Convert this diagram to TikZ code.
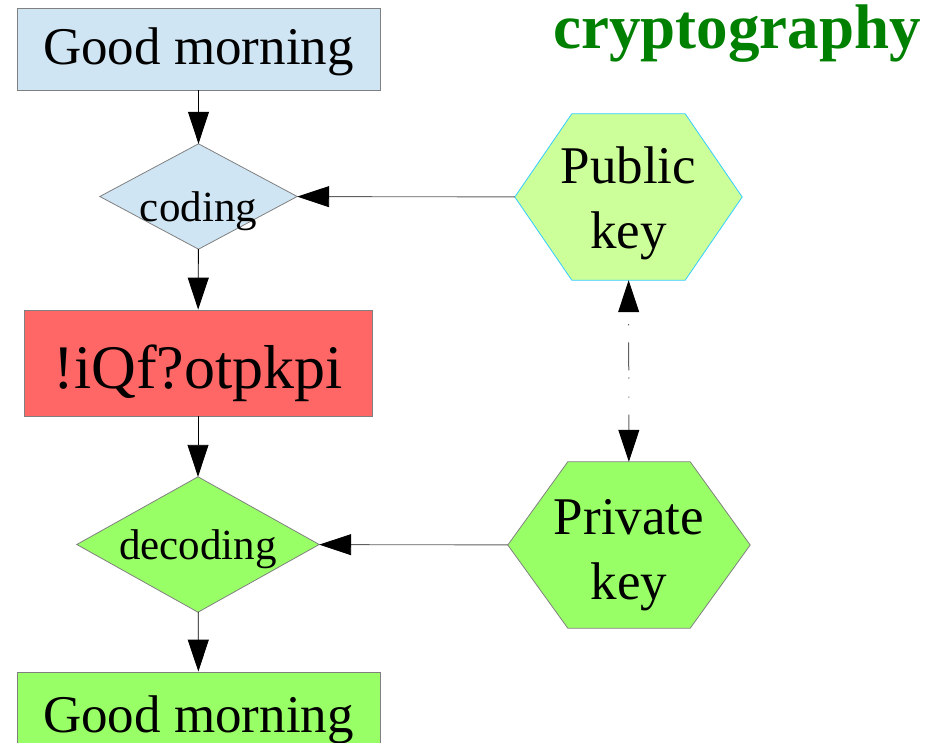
\documentclass[tikz,border=0pt]{standalone}
\usepackage{fontspec}
\setmainfont{Liberation Serif}
\usetikzlibrary{arrows.meta,calc,backgrounds}
\definecolor{boxblue}{HTML}{CFE5F3}
\definecolor{boxred}{HTML}{FF6666}
\definecolor{boxgreen}{HTML}{99FF66}
\definecolor{lightgreen}{HTML}{CCFF99}
\definecolor{edgegray}{HTML}{808080}
\definecolor{edgecyan}{HTML}{33CCFF}
\definecolor{titlegreen}{HTML}{008000}
\definecolor{linegray}{HTML}{606060}
\begin{document}
\begin{tikzpicture}[x=1pt,y=-1pt,
  box/.style={draw=edgegray, line width=0.8pt, inner sep=0pt, minimum width=363pt, minimum height=82pt, text depth=0pt, font=\fontsize{53}{60}\selectfont},
  frame/.style={inner sep=0pt, text depth=0pt, font=\fontsize{43}{50}\selectfont},
  hexlabel/.style={inner sep=0pt, align=center, font=\fontsize{53}{65}\selectfont},
  tip/.tip={Triangle[length=32pt,width=21pt,color=black]},
  arr/.style={-tip, line width=0.9pt},
  dashdot/.style={draw=linegray, line width=1pt, dash pattern=on 28pt off 7pt on 1.2pt off 18pt on 1.2pt off 17pt, dash phase=42pt, tip-tip}
]
\useasboundingbox (0,0) rectangle (935,743);

% left column
\node[box, fill=boxblue, text height=32pt] (g1) at (198.5,49) {Good morning};
\node[frame, minimum width=197pt, minimum height=105pt, text height=50pt] (cod) at (198.5,196.5) {coding};
\node[box, fill=boxred, minimum width=348pt, minimum height=106pt, text height=52pt, font=\fontsize{62}{70}\selectfont] (cipher) at (198,363) {!iQf?otpkpi};
\node[frame, minimum width=242pt, minimum height=135pt, text height=30pt] (dec) at (198,544.5) {decoding};
\node[box, fill=boxgreen, text height=38pt] (g2) at (198.5,713) {Good morning};

% hexagons (frames) and their labels
\node[inner sep=0pt, minimum width=227pt, minimum height=166pt] (pub) at (628.5,197) {};
\node[inner sep=0pt, minimum width=242pt, minimum height=166pt] (priv) at (629,545) {};
\node[hexlabel] (pubtxt) at ($(pub.center)+(0,6)$) {Public\\key};
\node[hexlabel] (privtxt) at ($(priv.center)+(0,10)$) {Private\\key};

\begin{pgfonlayer}{background}
\draw[fill=boxblue, draw=edgegray, line width=0.8pt]
  (cod.west) -- (cod.north) -- (cod.east) -- (cod.south) -- cycle;
\draw[fill=boxgreen, draw=edgegray, line width=0.8pt]
  (dec.west) -- (dec.north) -- (dec.east) -- (dec.south) -- cycle;
\draw[fill=lightgreen, draw=edgecyan, line width=0.8pt]
  (pub.west) -- ($(pub.north west)+(57,0)$) -- ($(pub.north east)+(-57,0)$) -- (pub.east)
  -- ($(pub.south east)+(-57,0)$) -- ($(pub.south west)+(57,0)$) -- cycle;
\draw[fill=boxgreen, draw=edgegray, line width=0.8pt]
  (priv.west) -- ($(priv.north west)+(60,0)$) -- ($(priv.north east)+(-60,0)$) -- (priv.east)
  -- ($(priv.south east)+(-60,0)$) -- ($(priv.south west)+(60,0)$) -- cycle;
\end{pgfonlayer}

\node[anchor=base west, inner sep=0pt, text=titlegreen, font=\bfseries\fontsize{63}{70}\selectfont] (title) at (553,49) {cryptography};

\draw[arr] (g1) -- (cod);
\draw[arr] (cod) -- (cipher);
\draw[arr] (cipher) -- (dec);
\draw[arr] (dec) -- (g2);
\draw[arr, draw=linegray] (pub) -- (cod);
\draw[arr, draw=linegray] (priv) -- (dec);
\draw[dashdot] (pub) -- (priv);
\end{tikzpicture}
\end{document}
